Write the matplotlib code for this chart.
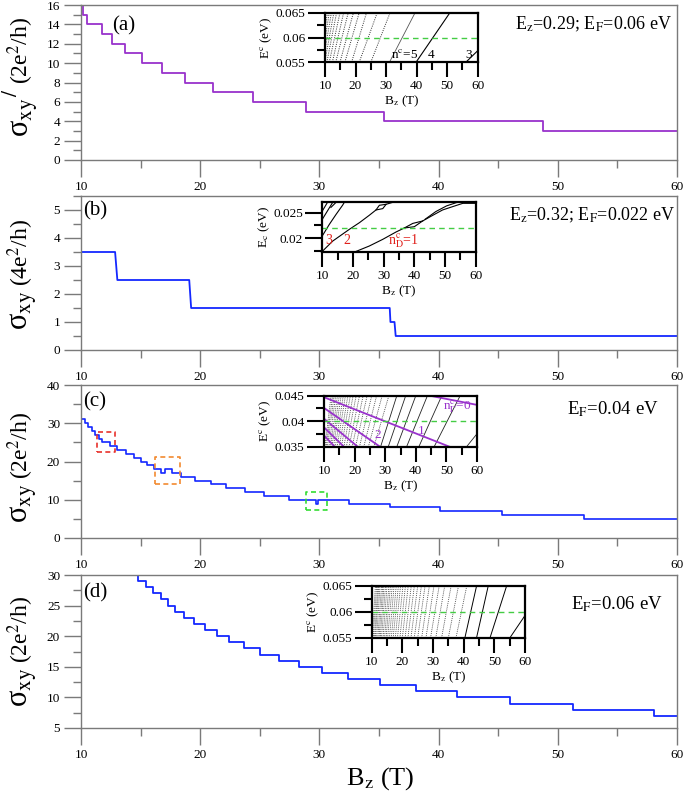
import matplotlib
matplotlib.use('Agg')
import matplotlib.pyplot as plt
from matplotlib.ticker import MultipleLocator, FixedLocator, FixedFormatter

plt.rcParams['font.family'] = ['Liberation Serif', 'DejaVu Serif']
plt.rcParams['mathtext.fontset'] = 'stix'

W, H = 685, 793
fig = plt.figure(figsize=(6.85, 7.93), dpi=100)


def rect(l, t, r, b):
    return [l / W, 1 - b / H, (r - l) / W, (b - t) / H]

# ---------------- data ----------------
# panel (a): step edges (T) and plateau values (2e^2/h)
a_edges = [10, 10.14, 10.48, 11.74, 12.58, 13.7, 15.1, 16.8, 18.7, 21.05, 24.43, 28.9, 35.4, 48.8, 60]
a_levels = [16, 15, 14, 13, 12, 11, 10, 9, 8, 7, 6, 5, 4, 3]

# panel (b): polyline of sigma_xy (4e^2/h)
b_B = [10, 12.86, 13.05, 19.08, 19.24, 35.9, 35.96, 36.3, 36.4, 60]
b_sig = [3.5, 3.5, 2.5, 2.5, 1.5, 1.5, 1.0, 1.0, 0.5, 0.5]

# panel (c)
c_edges = [10, 10.3, 10.6, 10.9, 11.2, 11.5, 11.8, 12.45, 13.0, 13.75, 14.45, 15.05, 15.55, 16.15,
           16.75, 17.08, 17.6, 18.43, 19.6, 20.87, 22.13, 23.75, 25.35, 27.48, 29.69, 29.9,
           32.5, 35.9, 40.1, 45.3, 52.2, 60]
c_levels = [31, 30, 29, 28, 27, 26, 25, 24, 23, 22, 21, 20, 19, 18, 17, 18, 17, 16, 15, 14, 13,
            12, 11, 10, 9, 10, 9, 8, 7, 6, 5]

# panel (d)
d_edges = [14.5, 14.75, 15.43, 16.08, 16.72, 17.34, 17.9, 18.6, 19.44, 20.42, 21.4, 22.38, 23.64,
           24.98, 26.58, 28.26, 30.23, 32.38, 35.07, 38.07, 41.57, 45.97, 51.26, 58.1, 60]
d_levels = [30, 29, 28, 27, 26, 25, 24, 23, 22, 21, 20, 19, 18, 17, 16, 15, 14, 13, 12, 11, 10,
            9, 8, 7]

# dashed boxes in (c): (B0, B1, s0, s1)
c_boxes_B0 = [11.35, 16.2, 28.9]
c_boxes_B1 = [12.86, 18.3, 30.67]
c_boxes_s0 = [22.5, 14.2, 7.4]
c_boxes_s1 = [27.8, 21.2, 12.1]
c_boxes_col = ['#e8312b', '#f28a30', '#33dd33']

# inset (a): Landau level lines, B where they cross E=0.055 and E=0.065
ia_bot = [56.1, 39.8, 31.1, 25.0, 21.2, 18.7, 16.5, 14.9, 13.5, 12.4, 11.4, 10.6, 9.9, 9.3, 8.8, 8.3]
ia_top = [72.8, 50.9, 39.5, 31.3, 27.1, 23.6, 21.2, 19.3, 17.6, 16.1, 14.9, 13.8, 12.9, 12.1, 11.4, 10.8]

# inset (b): Dirac-like levels (B, E) curves
ib_n1_B = [20.76, 25.3, 29.7, 34.0, 36.7, 39.5, 42.7, 46.0, 49.2, 52.5, 55.8, 60]
ib_n1_E = [0.0174, 0.0185, 0.0198, 0.02122, 0.0220, 0.0229, 0.02337, 0.02447, 0.02551, 0.02616, 0.0268, 0.0268]
ib_n1b_B = [36.7, 40.0, 42.7]
ib_n1b_E = [0.0220, 0.02226, 0.02337]
ib_n1c_B = [43.5, 47.0, 50.5, 54.0]
ib_n1c_E = [0.0237, 0.0252, 0.0263, 0.0270]
ib_n2_B = [10.1, 13.4, 18.8, 22.1, 25.3, 27.5, 28.6, 30.8, 33.0]
ib_n2_E = [0.01752, 0.01947, 0.02174, 0.02304, 0.02447, 0.02551, 0.02642, 0.02661, 0.0270]
ib_n2b_B = [27.5, 29.7, 30.8]
ib_n2b_E = [0.02551, 0.02577, 0.02661]
ib_n3_B = [10.1, 12.3, 14.5, 16.6, 17.2]
ib_n3_E = [0.02057, 0.02272, 0.02466, 0.02642, 0.0270]
ib_n4_B = [10.0, 13.4]
ib_n4_E = [0.02369, 0.0270]
ib_n5_B = [10.0, 11.7]
ib_n5_E = [0.0253, 0.0270]
ib_n6_B = [12.8, 14.5]
ib_n6_E = [0.0260, 0.0270]

# inset (c): black LL lines (B at E=0.035 and E=0.045), purple Gamma lines
ic_bot = [56.6, 46.0, 41.0, 37.0, 33.8, 31.0, 28.5, 26.3, 24.5, 23.0, 21.6, 20.3, 19.2, 18.2, 17.3,
          16.5, 15.7, 15.0, 14.3, 13.7, 13.1, 12.6, 12.1, 11.6, 11.1, 10.7, 10.3]
ic_top = [70.0, 54.5, 48.5, 43.8, 40.0, 36.7, 33.8, 31.2, 29.0, 27.2, 25.6, 24.1, 22.8, 21.6, 20.5,
          19.5, 18.6, 17.8, 17.0, 16.3, 15.6, 15.0, 14.4, 13.8, 13.3, 12.8, 12.3]
ic_p_B0 = [44.6, 10, 10, 10, 10, 10]
ic_p_E0 = [0.045, 0.0447, 0.0426, 0.0405, 0.0388, 0.0372]
ic_p_B1 = [60, 51, 28.3, 21, 16.5, 13.5]
ic_p_E1 = [0.0432, 0.035, 0.035, 0.035, 0.035, 0.035]

# inset (d): LL lines (B at E=0.055 and E=0.065)
id_bot = [55.1, 48.6, 44.2, 40.4, 37.5, 35.0, 32.8, 30.9, 29.2, 27.7, 26.3, 25.0, 23.9, 22.8, 21.8,
          20.9, 20.0, 19.2, 18.4, 17.7, 17.0, 16.4, 15.8, 15.2, 14.7, 14.2, 13.7, 13.2, 12.8, 12.4,
          12.0, 11.6, 11.2, 10.9, 10.5, 10.2]
id_top = [66.5, 54.0, 48.0, 44.2, 41.0, 38.3, 35.9, 33.8, 32.0, 30.3, 28.8, 27.4, 26.2, 25.0, 23.9,
          22.9, 21.9, 21.0, 20.2, 19.4, 18.7, 18.0, 17.3, 16.7, 16.1, 15.6, 15.0, 14.5, 14.0, 13.6,
          13.2, 12.7, 12.3, 12.0, 11.6, 11.2]

purple = '#9932cc'
blue = '#1428ff'
green = '#44cc44'
red = '#e0201b'
spine_gray = '#7a7a7a'


def step_xy(edges, levels):
    xs, ys = [], []
    for i, lv in enumerate(levels):
        xs += [edges[i], edges[i + 1]]
        ys += [lv, lv]
    return xs, ys


def style_main(ax, ylim, ymaj, ymin):
    ax.set_xlim(10, 60)
    ax.set_ylim(*ylim)
    ax.xaxis.set_major_locator(MultipleLocator(10))
    ax.xaxis.set_minor_locator(MultipleLocator(5))
    ax.yaxis.set_major_locator(MultipleLocator(ymaj))
    ax.yaxis.set_minor_locator(MultipleLocator(ymin))
    for s in ax.spines.values():
        s.set_color(spine_gray)
        s.set_linewidth(1.0)
    ax.tick_params(which='major', direction='out', length=12, width=1.0, color=spine_gray,
                   labelsize=9.5, pad=3)
    ax.tick_params(which='minor', direction='out', length=6, width=1.0, color=spine_gray)
    ax.tick_params(axis='y', which='both', right=False)
    ax.tick_params(axis='x', which='both', top=False)


def style_inset(ax, ylim, yticks, ylabels, yminor, ylab):
    ax.set_xlim(10, 60)
    ax.set_ylim(*ylim)
    ax.xaxis.set_major_locator(MultipleLocator(10))
    ax.xaxis.set_minor_locator(MultipleLocator(5))
    ax.yaxis.set_major_locator(FixedLocator(yticks))
    ax.yaxis.set_major_formatter(FixedFormatter(ylabels))
    ax.yaxis.set_minor_locator(FixedLocator(yminor))
    for s in ax.spines.values():
        s.set_color('black')
        s.set_linewidth(1.6)
    ax.tick_params(which='major', direction='out', length=12, width=1.5, labelsize=9.5, pad=2)
    ax.tick_params(which='minor', direction='out', length=6, width=1.5)
    ax.tick_params(axis='x', which='major', length=11)
    ax.set_xlabel(r'B$_{\rm z}$ (T)', fontsize=9.5, labelpad=1)
    ax.set_ylabel(ylab, fontsize=9.5, labelpad=1)


# ---------------- main panels ----------------
axa = fig.add_axes(rect(81, 5, 677, 160))
axb = fig.add_axes(rect(81, 196, 677, 350))
axc = fig.add_axes(rect(81, 385, 677, 538))
axd = fig.add_axes(rect(81, 575, 677, 728))

x, y = step_xy(a_edges, a_levels)
axa.plot(x, y, color=purple, lw=1.3)
style_main(axa, (0, 16), 2, 1)

axb.plot(b_B, b_sig, color=blue, lw=1.3)
style_main(axb, (0, 5.5), 1, 0.5)

x, y = step_xy(c_edges, c_levels)
axc.plot(x, y, color=blue, lw=1.2)
style_main(axc, (0, 40), 10, 5)
for i in range(len(c_boxes_B0)):
    bx = [c_boxes_B0[i], c_boxes_B1[i], c_boxes_B1[i], c_boxes_B0[i], c_boxes_B0[i]]
    by = [c_boxes_s0[i], c_boxes_s0[i], c_boxes_s1[i], c_boxes_s1[i], c_boxes_s0[i]]
    axc.plot(bx, by, color=c_boxes_col[i], lw=1.2, ls=(0, (3, 2)))

x, y = step_xy(d_edges, d_levels)
axd.plot(x, y, color=blue, lw=1.3)
style_main(axd, (5, 30), 5, 2.5)

# panel letters and labels
for ax, lab, (px, py) in [(axa, '(a)', (112, 26)), (axb, '(b)', (83, 211)),
                          (axc, '(c)', (83, 402)), (axd, '(d)', (83, 593))]:
    fig.text(px / W, 1 - py / H, lab, fontsize=15, va='center', ha='left')

fig.text(672 / W, 1 - 24 / H, r'E$_{\rm z}$=0.29; E$_{\rm F}$=0.06 eV', fontsize=13,
         va='center', ha='right')
fig.text(675 / W, 1 - 215 / H, r'E$_{\rm z}$=0.32; E$_{\rm F}$=0.022 eV', fontsize=13,
         va='center', ha='right')
fig.text(659 / W, 1 - 409 / H, r'E$_{\rm F}$=0.04 eV', fontsize=13.5, va='center', ha='right')
fig.text(663 / W, 1 - 604 / H, r'E$_{\rm F}$=0.06 eV', fontsize=13.5, va='center', ha='right')

fig.text(380 / W, 1 - 779 / H, r'B$_{\rm z}$ (T)', fontsize=19, va='center', ha='center')

# y labels: large sigma + unit
ylabs = [('σ$_{\\rm xy}$$^{/}$', '(2e$^2$/h)', 137, 5),
         ('σ$_{\\rm xy}$', '(4e$^2$/h)', 330, 4),
         ('σ$_{\\rm xy}$', '(2e$^2$/h)', 523, 4),
         ('σ$_{\\rm xy}$', '(2e$^2$/h)', 707, 4)]
fig.canvas.draw()
renderer = fig.canvas.get_renderer()
for s1, s2, ybot, gap in ylabs:
    t1 = fig.text(28 / W, 1 - ybot / H, s1, fontsize=22, rotation=90, ha='left', va='baseline',
                  rotation_mode='anchor')
    bb = t1.get_window_extent(renderer)
    t2 = fig.text(28 / W, (bb.y1 + gap) / H, s2, fontsize=17, rotation=90, ha='left',
                  va='baseline', rotation_mode='anchor')

# ---------------- insets ----------------
dotted = (0, (1, 1.3))

ia = fig.add_axes(rect(325, 12.7, 477.7, 62.3))
for i in range(len(ia_bot)):
    if i < 2:
        ls, lw, col = '-', 0.8, 'black'
    elif i == 2:
        ls, lw, col = '-', 0.6, '#555555'
    else:
        ls, lw, col = dotted, 0.7, '#333333'
    ia.plot([ia_bot[i], ia_top[i]], [0.055, 0.065], ls=ls, lw=lw, color=col)
ia.axhline(0.06, color=green, lw=1.0, ls=(0, (4, 3)))
style_inset(ia, (0.055, 0.065), [0.055, 0.06, 0.065], ['0.055', '0.06', '0.065'],
            [0.0575, 0.0625], r'E$^{\rm c}$ (eV)')
ia.text(31.5, 0.0558, r'n$^{\rm c}$=5', fontsize=9.5)
ia.text(43.5, 0.0558, '4', fontsize=9.5)
ia.text(56.0, 0.0558, '3', fontsize=9.5)

ib = fig.add_axes(rect(322.3, 202.3, 475.7, 251.7))
for bx, ey in [(ib_n1_B, ib_n1_E), (ib_n1b_B, ib_n1b_E), (ib_n1c_B, ib_n1c_E),
               (ib_n2_B, ib_n2_E), (ib_n2b_B, ib_n2b_E), (ib_n3_B, ib_n3_E),
               (ib_n4_B, ib_n4_E), (ib_n5_B, ib_n5_E), (ib_n6_B, ib_n6_E)]:
    ib.plot(bx, ey, color='black', lw=0.8)
ib.axhline(0.022, color=green, lw=1.0, ls=(0, (4, 3)))
style_inset(ib, (0.0174, 0.027), [0.02, 0.025], ['0.02', '0.025'], [0.0175, 0.0225],
            r'E$_{\rm c}$ (eV)')
ib.text(11.0, 0.0188, '3', fontsize=10, color=red)
ib.text(17.0, 0.0188, '2', fontsize=10, color=red)
ib.text(31.5, 0.0188, r'n$^{\rm c}_{\rm D}$=1', fontsize=10, color=red)

ic = fig.add_axes(rect(324, 395.7, 477, 446.7))
for i in range(len(ic_bot)):
    if i < 7:
        ls, lw, col = '-', 0.6, '#222222'
    else:
        ls, lw, col = dotted, 0.6, '#333333'
    ic.plot([ic_bot[i], ic_top[i]], [0.035, 0.045], ls=ls, lw=lw, color=col)
for i in range(len(ic_p_B0)):
    ic.plot([ic_p_B0[i], ic_p_B1[i]], [ic_p_E0[i], ic_p_E1[i]], color=purple, lw=1.3)
ic.axhline(0.04, color=green, lw=1.0, ls=(0, (4, 3)))
style_inset(ic, (0.035, 0.045), [0.035, 0.04, 0.045], ['0.035', '0.04', '0.045'],
            [0.0375, 0.0425], r'E$^{\rm c}$ (eV)')
ic.text(49.0, 0.0423, r'n$^{\rm c}_{\Gamma}$=0', fontsize=9.5, color=purple)
ic.text(40.5, 0.0375, '1', fontsize=9.5, color=purple)
ic.text(26.5, 0.0368, '2', fontsize=9.5, color=purple)

idd = fig.add_axes(rect(371.7, 586, 525, 637.7))
for i in range(len(id_bot)):
    if i < 4:
        ls, lw, col = '-', 0.7, 'black'
    else:
        ls, lw, col = dotted, 0.6, '#333333'
    idd.plot([id_bot[i], id_top[i]], [0.055, 0.065], ls=ls, lw=lw, color=col)
idd.axhline(0.06, color=green, lw=1.0, ls=(0, (4, 3)))
style_inset(idd, (0.055, 0.065), [0.055, 0.06, 0.065], ['0.055', '0.06', '0.065'],
            [0.0575, 0.0625], r'E$^{\rm c}$ (eV)')

fig.savefig('out.png', dpi=100)
